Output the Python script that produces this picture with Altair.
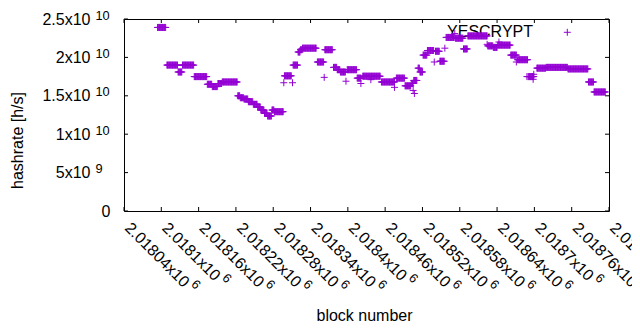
import altair as alt
import pandas as pd

PURPLE = "#9400D3"
FONT = "Liberation Sans"

# Runs of consecutive blocks that share one hashrate: first block, last block, hashrate [h/s]
run_first = [2018094, 2018109, 2018127, 2018134, 2018153, 2018174, 2018182, 2018191, 2018198,
             2018223, 2018227, 2018233, 2018240, 2018248, 2018255, 2018260, 2018266, 2018271,
             2018278, 2018282, 2018298, 2018312, 2018320, 2018324, 2018327, 2018351, 2018363,
             2018377, 2018383, 2018388, 2018399, 2018415, 2018424, 2018454, 2018478, 2018492,
             2018502, 2018506, 2018513, 2018516, 2018521, 2018528, 2018541, 2018548, 2018558,
             2018573, 2018586, 2018593, 2018625, 2018634, 2018641, 2018662, 2018673, 2018690,
             2018704, 2018719, 2018754, 2018787, 2018796]
run_last = [2018107, 2018126, 2018133, 2018152, 2018173, 2018181, 2018190, 2018197, 2018222,
            2018226, 2018232, 2018239, 2018247, 2018254, 2018259, 2018265, 2018270, 2018277,
            2018281, 2018296, 2018309, 2018319, 2018323, 2018326, 2018349, 2018361, 2018375,
            2018382, 2018387, 2018396, 2018414, 2018421, 2018452, 2018475, 2018491, 2018501,
            2018505, 2018511, 2018515, 2018520, 2018527, 2018538, 2018547, 2018555, 2018571,
            2018585, 2018592, 2018624, 2018633, 2018640, 2018661, 2018671, 2018689, 2018699,
            2018718, 2018753, 2018786, 2018795, 2018814]
run_rate = [2.39e10, 1.90e10, 1.81e10, 1.90e10, 1.75e10, 1.65e10, 1.62e10, 1.66e10, 1.68e10,
            1.50e10, 1.475e10, 1.458e10, 1.423e10, 1.389e10, 1.354e10, 1.315e10, 1.272e10, 1.237e10,
            1.315e10, 1.293e10, 1.76e10, 1.90e10, 2.07e10, 2.10e10, 2.12e10, 1.94e10, 2.10e10,
            1.87e10, 1.84e10, 1.81e10, 1.84e10, 1.73e10, 1.755e10, 1.68e10, 1.73e10, 1.63e10,
            1.66e10, 1.70e10, 1.86e10, 1.81e10, 2.03e10, 2.09e10, 2.08e10, 1.95e10, 2.26e10,
            2.25e10, 2.11e10, 2.28e10, 2.15e10, 2.13e10, 2.16e10, 2.03e10, 1.97e10, 1.75e10,
            1.86e10, 1.87e10, 1.85e10, 1.68e10, 1.55e10]

# Isolated blocks
single_block = [2018297, 2018311, 2018362, 2018397, 2018421, 2018437, 2018475, 2018505, 2018507,
                2018539, 2018556, 2018572, 2018624, 2018643, 2018671, 2018688, 2018698, 2018699]
single_rate = [1.67e10, 1.67e10, 1.74e10, 1.69e10, 1.66e10, 1.71e10, 1.61e10, 1.57e10, 1.53e10,
               1.94e10, 2.12e10, 2.31e10, 2.17e10, 2.20e10, 1.94e10, 1.75e10, 1.715e10, 1.78e10]

x_tick_values = [2018040, 2018100, 2018160, 2018220, 2018280, 2018340, 2018400,
                 2018460, 2018520, 2018580, 2018640, 2018700, 2018760, 2018820]
x_tick_base = ["2.01804x10", "2.0181x10", "2.01816x10", "2.01822x10", "2.01828x10",
               "2.01834x10", "2.0184x10", "2.01846x10", "2.01852x10", "2.01858x10",
               "2.01864x10", "2.0187x10", "2.01876x10", "2.01882x10"]
x_tick_exp = ["6", "6", "6", "6", "6", "6", "6", "6", "6", "6", "6", "6", "6", "6"]

y_tick_values = [0, 5e9, 1e10, 1.5e10, 2e10, 2.5e10]
y_tick_base = ["0", "5x10", "1x10", "1.5x10", "2x10", "2.5x10"]
y_tick_exp = ["", "9", "10", "10", "10", "10"]

key_label = ["YESCRYPT"]

X_DOMAIN = [2018040, 2018820]
Y_DOMAIN = [0, 2.5e10]
W, H = 485, 192

blocks, rates = [], []
for f, l, r in zip(run_first, run_last, run_rate):
    for b in range(f, l + 1):
        blocks.append(b)
        rates.append(r)
blocks += single_block
rates += single_rate
df = pd.DataFrame({"block": blocks, "hashrate": rates})
df_x = pd.DataFrame({"v": x_tick_values})
df_y = pd.DataFrame({"v": y_tick_values})
df_key = pd.DataFrame({"label": key_label})


def label_expr(values, texts):
    expr = "''"
    for v, t in reversed(list(zip(values, texts))):
        expr = f"datum.value == {float(v)!r} ? '{t}' : ({expr})"
    return expr


xscale = alt.Scale(domain=X_DOMAIN, nice=False, zero=False)
yscale = alt.Scale(domain=Y_DOMAIN, nice=False, zero=False)
PLUS = "M-1,0L1,0M0,-1L0,1"

common = dict(labelFont=FONT, labelColor="black", ticks=False, tickSize=0, domain=False,
              grid=False, labelFlush=False, labelOverlap=False, labelLimit=0)

XOFF, XPAD = 3, 14
x_main_axis = alt.Axis(values=x_tick_values, labelExpr=label_expr(x_tick_values, x_tick_base),
                       labelAngle=45, labelAlign="left", labelBaseline="middle",
                       labelPadding=XPAD, labelOffset=XOFF, labelFontSize=16,
                       title="block number", titleFont=FONT, titleFontSize=16,
                       titleFontWeight="normal", titleColor="black", titleX=240, titleY=104,
                       titleBaseline="middle", titleAlign="center", orient="bottom", **common)
short = "datum.value % 100 == 0"
x_exp_axis = alt.Axis(values=x_tick_values, labelExpr=label_expr(x_tick_values, x_tick_exp),
                      labelAngle=45, labelAlign="left", labelBaseline="middle",
                      labelFontSize=12.8,
                      labelOffset={"condition": {"test": short, "value": XOFF + 59.5}, "value": XOFF + 65.8},
                      labelPadding={"condition": {"test": short, "value": XPAD + 50.3}, "value": XPAD + 56.6},
                      title=None, orient="bottom", **common)

y_main_axis = alt.Axis(values=y_tick_values, labelExpr=label_expr(y_tick_values, y_tick_base),
                       labelAlign="right", labelBaseline="middle", labelFontSize=16,
                       labelPadding={"condition": {"test": "datum.value == 0", "value": 14}, "value": 34},
                       title="hashrate [h/s]", titleFont=FONT, titleFontSize=16,
                       titleFontWeight="normal", titleColor="black", titleX=-107, titleY=121,
                       titleBaseline="middle", titleAlign="center", orient="left", **common)
y_exp_axis = alt.Axis(values=y_tick_values, labelExpr=label_expr(y_tick_values, y_tick_exp),
                      labelAlign="left", labelBaseline="middle", labelFontSize=12.8,
                      labelPadding=29, labelOffset=-4, title=None, orient="left", **common)

TL = 4  # inward tick length

key_text = alt.Chart(df_key).mark_text(font=FONT, fontSize=16, align="right", baseline="middle",
                                       color="black").encode(
    text="label:N", x=alt.value(409), y=alt.value(13))

x_ticks_bottom = alt.Chart(df_x).mark_rule(color="black", strokeWidth=1).encode(
    x=alt.X("v:Q", scale=xscale, axis=x_exp_axis), y=alt.value(H - TL), y2=alt.value(H))
x_ticks_top = alt.Chart(df_x).mark_rule(color="black", strokeWidth=1).encode(
    x=alt.X("v:Q", scale=xscale, axis=None), y=alt.value(0), y2=alt.value(TL))
y_ticks_left = alt.Chart(df_y).mark_rule(color="black", strokeWidth=1).encode(
    y=alt.Y("v:Q", scale=yscale, axis=y_exp_axis), x=alt.value(0), x2=alt.value(TL))
y_ticks_right = alt.Chart(df_y).mark_rule(color="black", strokeWidth=1).encode(
    y=alt.Y("v:Q", scale=yscale, axis=None), x=alt.value(W - TL), x2=alt.value(W))

points = alt.Chart(df).mark_point(shape=PLUS, filled=False, size=49, strokeWidth=1,
                                  color=PURPLE, opacity=1).encode(
    x=alt.X("block:Q", scale=xscale, axis=x_main_axis),
    y=alt.Y("hashrate:Q", scale=yscale, axis=y_main_axis))

key_sample = alt.Chart(df_key).mark_point(shape=PLUS, filled=False, size=49, strokeWidth=1,
                                          color=PURPLE, opacity=1).encode(
    x=alt.value(443.3), y=alt.value(13.3))

chart = alt.layer(key_text, x_ticks_bottom, x_ticks_top, y_ticks_left, y_ticks_right,
                  points, key_sample).resolve_axis(
    x="independent", y="independent"
).properties(
    width=W, height=H,
    autosize=alt.AutoSizeParams(type="none"),
    padding={"left": 116, "top": 11, "right": 23, "bottom": 111},
    background="white",
).configure_view(stroke="black", strokeWidth=1)

chart.save("out.html", embed_options={"renderer": "svg", "actions": False})
